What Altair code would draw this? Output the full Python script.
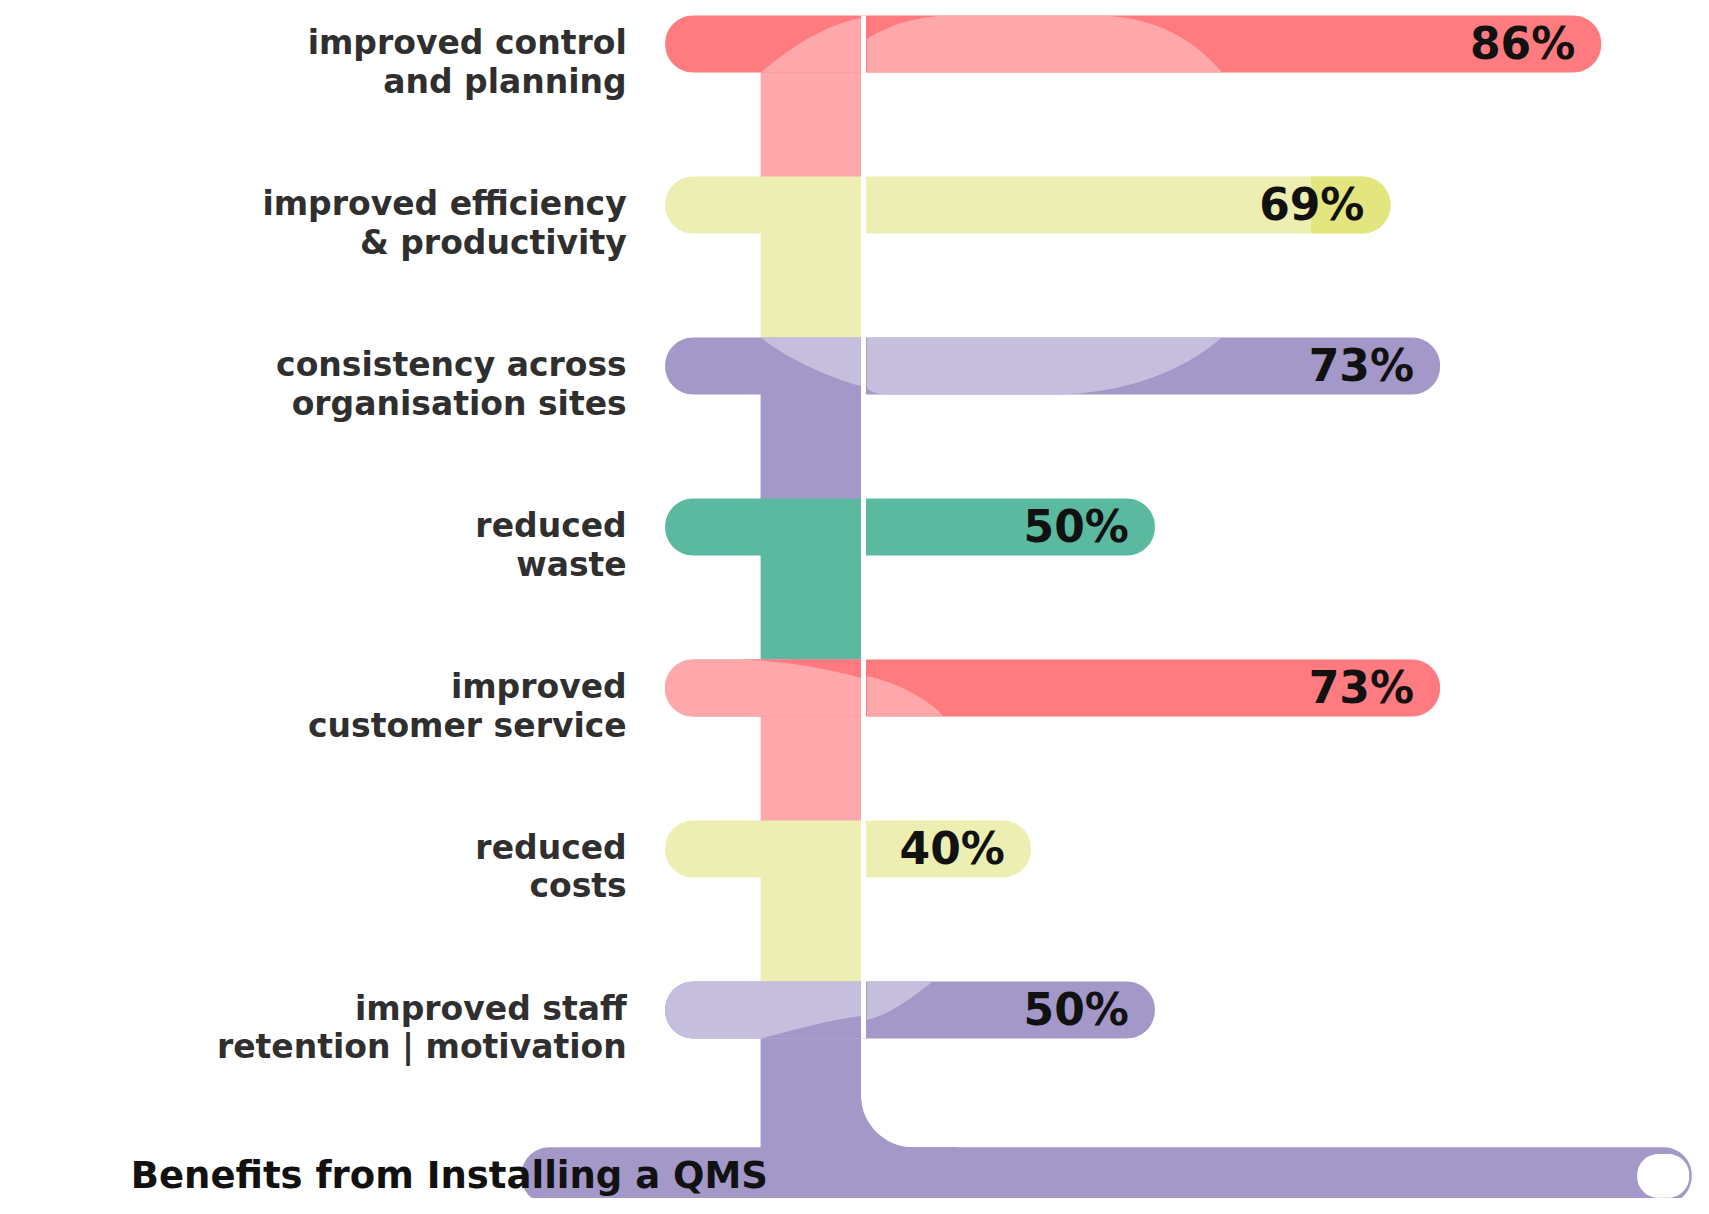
import altair as alt
import pandas as pd

# ---------------- data ----------------
labels = [
    "improved control\nand planning",
    "improved efficiency\n& productivity",
    "consistency across\norganisation sites",
    "reduced\nwaste",
    "improved\ncustomer service",
    "reduced\ncosts",
    "improved staff\nretention | motivation",
]
values = [86, 69, 73, 50, 73, 40, 50]
value_text = ["86%", "69%", "73%", "50%", "73%", "40%", "50%"]
bar_colors = ["#FF7B80", "#EDEFB2", "#A398C8", "#5BB9A0", "#FF7B80", "#EDEFB2", "#A398C8"]
link_colors = ["#FFA8AC", "#EDEFB2", "#A398C8", "#5BB9A0", "#FFA8AC", "#EDEFB2", "#A398C8"]
title_text = "Benefits from Installing a QMS"

# ---------------- layout constants ----------------
W, H = 1685, 1190
X_DOMAIN = [-42.5, 93.4]
Y_DOMAIN = [-0.224, 7.168]
BAR_START = 10.5
HALF = 0.177
LINK_L, LINK_R = 18.2, 26.3
GAP_R = 26.7
GAP_MID = 26.53
LABEL_X = 7.4
TITLE_ROW = 7.03
TITLE_X = -32.6

PINK_L = "#FFA8AC"
RED = "#FF7B80"
LAV = "#C5BEDD"
PURPLE = "#A398C8"
YEL_D = "#E3E67F"

XS = alt.Scale(domain=X_DOMAIN, nice=False, zero=False)
YS = alt.Scale(domain=Y_DOMAIN, nice=False, zero=False, reverse=True)

rows = list(range(len(labels)))
n = len(rows)


def rect_layer(df, **mk):
    return alt.Chart(df).mark_rect(**mk).encode(
        x=alt.X("x0:Q", scale=XS, axis=None),
        x2="x1",
        y=alt.Y("y0:Q", scale=YS, axis=None),
        y2="y1",
        color=alt.Color("c:N", scale=None),
    )


def piece(x0, x1, y0, y1, c):
    return {"x0": x0, "x1": x1, "y0": y0, "y1": y1, "c": c}


# connectors between rows (center to center), last one down to title bar
conn = pd.DataFrame([
    piece(LINK_L, LINK_R, r, (r + 1) if r < n - 1 else TITLE_ROW, link_colors[r])
    for r in rows
])

# main rounded bars
bars = pd.DataFrame([
    piece(BAR_START, values[r], r - HALF, r + HALF, bar_colors[r]) for r in rows
])

# light left ends (rows 5 and 7)
left_ends = pd.DataFrame([
    piece(BAR_START, LINK_R, 4 - HALF, 4 + HALF, PINK_L),
    piece(BAR_START, LINK_R, 6 - HALF, 6 + HALF, LAV),
])
tip1 = pd.DataFrame([piece(62.6, values[1], 1 - HALF, 1 + HALF, YEL_D)])

# curved gloss shapes (symbol paths, 1 unit = 100 px, anchored on the white gap)
GLOSS_SIZE = 40000
gloss_shapes = [
    (0, PINK_L,
     "M -1.03 0.285 C -0.7 0.0 -0.35 -0.2 -0.03 -0.26 L -0.03 0.285 Z "
     "M 0.03 0.285 L 0.03 -0.05 C 0.3 -0.22 0.6 -0.285 0.9 -0.285 L 2.31 -0.285 "
     "C 2.9 -0.285 3.3 -0.05 3.58 0.285 Z"),
    (2, LAV,
     "M -1.03 -0.285 L -0.03 -0.285 L -0.03 0.2 C -0.4 0.1 -0.8 -0.1 -1.03 -0.285 Z "
     "M 0.03 -0.285 L 3.58 -0.285 C 3.2 0.05 2.6 0.285 1.89 0.285 L 0.2 0.285 "
     "C 0.1 0.27 0.03 0.25 0.03 0.2 Z"),
    (4, RED,
     "M -1.2 -0.285 L -0.03 -0.285 L -0.03 -0.1 C -0.4 -0.2 -0.8 -0.27 -1.2 -0.285 Z"),
    (4, PINK_L,
     "M 0.03 -0.12 C 0.35 -0.05 0.65 0.12 0.8 0.285 L 0.03 0.285 Z"),
    (6, PURPLE,
     "M -1.03 0.285 C -0.7 0.2 -0.35 0.1 -0.03 0.06 L -0.03 0.285 Z"),
    (6, LAV,
     "M 0.03 -0.285 L 0.69 -0.285 C 0.45 -0.1 0.25 0.05 0.03 0.1 Z"),
]
gloss = pd.DataFrame({
    "x": [GAP_MID] * len(gloss_shapes),
    "r": [g[0] for g in gloss_shapes],
    "c": [g[1] for g in gloss_shapes],
    "p": [g[2] for g in gloss_shapes],
})

gap = pd.DataFrame([piece(LINK_R, GAP_R, -HALF, 6 + HALF, "#FFFFFF")])
fillet_p = pd.DataFrame([piece(LINK_R, 34.0, 6.55, TITLE_ROW - HALF + 0.03, PURPLE)])
fillet_w = pd.DataFrame([piece(LINK_R, 38.3, 6 + HALF + 0.003, TITLE_ROW - HALF, "#FFFFFF")])

title_bar = pd.DataFrame([piece(-1.1, 93.3, TITLE_ROW - HALF, TITLE_ROW + HALF, PURPLE)])
ellipse = pd.DataFrame([piece(88.9, 93.1, TITLE_ROW - 0.136, TITLE_ROW + 0.136, "#FFFFFF")])

label_df = pd.DataFrame({"label": labels, "r": rows, "x": [LABEL_X] * n})
val_df = pd.DataFrame({"t": value_text, "r": rows, "v": values})
title_df = pd.DataFrame({"t": [title_text], "r": [TITLE_ROW], "x": [TITLE_X]})


def build(variant):
    layers = [
        rect_layer(conn),
        rect_layer(bars, cornerRadius=28),
        rect_layer(left_ends, cornerRadiusTopLeft=28, cornerRadiusBottomLeft=28),
        alt.Chart(gloss).mark_point(
            filled=True, opacity=1, strokeWidth=0, size=GLOSS_SIZE,
        ).encode(
            x=alt.X("x:Q", scale=XS, axis=None),
            y=alt.Y("r:Q", scale=YS, axis=None),
            shape=alt.Shape("p:N", scale=None),
            color=alt.Color("c:N", scale=None),
        ),
        rect_layer(tip1, cornerRadiusTopRight=28, cornerRadiusBottomRight=28),
        rect_layer(gap),
        rect_layer(fillet_p),
        rect_layer(fillet_w, cornerRadiusBottomLeft=52),
        rect_layer(title_bar, cornerRadius=28, clip=True),
        rect_layer(ellipse, cornerRadius=21, clip=True),
        alt.Chart(label_df).mark_text(
            align="right", baseline="middle", font="DejaVu Sans", fontSize=33,
            fontWeight="bold", color="#2f2f2f", lineBreak="\n", lineHeight=38.5,
        ).encode(
            x=alt.X("x:Q", scale=XS, axis=None),
            y=alt.Y("r:Q", scale=YS, axis=None),
            text="label:N",
        ),
        alt.Chart(val_df).mark_text(
            align="right", baseline="middle", font="DejaVu Sans", fontSize=44,
            fontWeight="bold", color="#111111", dx=-26, dy=2,
        ).encode(
            x=alt.X("v:Q", scale=XS, axis=None),
            y=alt.Y("r:Q", scale=YS, axis=None),
            text="t:N",
        ),
    ]
    tkw = dict(align="left", baseline="middle", font="DejaVu Sans", fontSize=37,
               fontWeight="bold", color="#111111", dy=1)
    if variant:
        tkw["fontVariant"] = "small-caps"
    layers.append(
        alt.Chart(title_df).mark_text(**tkw).encode(
            x=alt.X("x:Q", scale=XS, axis=None),
            y=alt.Y("r:Q", scale=YS, axis=None),
            text="t:N",
        )
    )
    ch = alt.layer(*layers).properties(
        width=W, height=H, padding=0,
        autosize=alt.AutoSizeParams(type="none"),
        background="#FFFFFF",
    ).configure_view(stroke=None)
    ch.to_dict()
    return ch


try:
    chart = build(True)
except Exception:
    chart = build(False)

chart.save("out.html", embed_options={"renderer": "svg", "actions": False})
